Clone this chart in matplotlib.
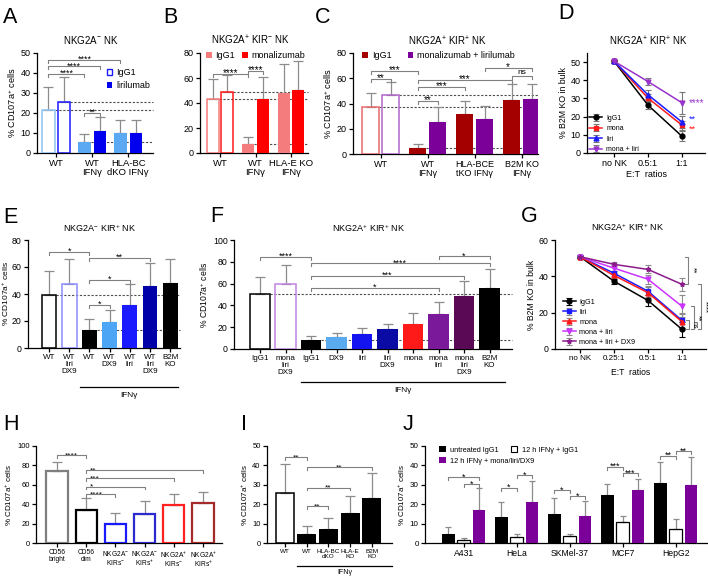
import numpy as np
import matplotlib.pyplot as plt
from matplotlib.patches import Patch

plt.rcParams['font.family'] = ['Liberation Sans', 'DejaVu Sans']
plt.rcParams['mathtext.fontset'] = 'custom'
plt.rcParams['mathtext.rm'] = 'Liberation Sans'
plt.rcParams['mathtext.it'] = 'Liberation Sans:italic'
plt.rcParams['mathtext.bf'] = 'Liberation Sans:bold'

# ---------------- data ----------------
# A  NKG2A- NK
A_groups = ['WT', 'WT\nIFNγ', 'HLA-BC\ndKO IFNγ']
A_igg1 = [21.7, 5.3, 9.8]
A_igg1_sd = [11.4, 4.1, 6.9]
A_liri = [25.5, 10.8, 10.1]
A_liri_sd = [12.6, 7.4, 6.3]

# B  NKG2A+ KIR- NK
B_groups = ['WT', 'WT\nIFNγ', 'HLA-E KO\nIFNγ']
B_igg1 = [43.2, 7.2, 48.0]
B_igg1_sd = [16.0, 5.3, 23.2]
B_mona = [48.5, 43.2, 50.1]
B_mona_sd = [14.2, 17.6, 23.2]

# C  NKG2A+ KIR+ NK
C_groups = ['WT', 'WT\nIFNγ', 'HLA-BCE\ntKO IFNγ', 'B2M KO\nIFNγ']
C_igg1 = [36.9, 4.5, 31.6, 43.0]
C_igg1_sd = [11.4, 3.2, 10.6, 12.4]
C_ml = [47.0, 25.2, 27.9, 43.5]
C_ml_sd = [10.0, 11.7, 9.8, 11.9]

# D  killing curves
D_ratios = ['no NK', '0.5:1', '1:1']
D_igg1 = [50.5, 26.3, 9.2]
D_igg1_sd = [0.8, 2.3, 2.8]
D_mona = [50.5, 30.2, 15.3]
D_mona_sd = [0.8, 2.0, 2.5]
D_liri = [50.5, 32.0, 17.0]
D_liri_sd = [0.8, 2.5, 3.5]
D_ml = [50.5, 39.3, 27.6]
D_ml_sd = [0.8, 2.0, 6.0]

# E  NKG2A- KIR+ NK
E_labels = ['WT', 'WT\nliri\nDX9', 'WT', 'WT\nDX9', 'WT\nliri', 'WT\nliri\nDX9', 'B2M\nKO']
E_vals = [39.4, 47.3, 13.0, 19.0, 31.5, 46.0, 47.8]
E_sd = [18.0, 18.4, 8.4, 9.3, 15.8, 16.8, 17.9]

# F  NKG2A+ KIR+ NK
F_labels = ['IgG1', 'mona\nliri\nDX9', 'IgG1', 'DX9', 'liri', 'liri\nDX9', 'mona',
            'mona\nliri', 'mona\nliri\nDX9', 'B2M\nKO']
F_vals = [50.3, 59.3, 7.8, 10.7, 13.8, 18.0, 22.9, 31.8, 48.6, 56.3]
F_sd = [15.7, 17.7, 3.7, 4.3, 5.2, 5.0, 10.1, 11.2, 13.4, 16.7]

# G  killing curves
G_ratios = ['no NK', '0.25:1', '0.5:1', '1:1']
G_igg1 = [50.8, 37.3, 26.7, 10.8]
G_igg1_sd = [0.8, 1.5, 3.2, 4.0]
G_liri = [50.8, 41.7, 31.8, 15.7]
G_liri_sd = [0.8, 1.5, 3.0, 4.0]
G_mona = [50.8, 40.5, 31.0, 15.0]
G_mona_sd = [0.8, 1.5, 3.0, 4.0]
G_ml = [50.8, 44.5, 38.4, 23.5]
G_ml_sd = [0.8, 1.5, 2.5, 6.0]
G_mld = [50.8, 46.6, 43.8, 35.6]
G_mld_sd = [0.8, 1.5, 2.2, 3.5]

# H  subsets
H_labels = ['CD56\nbright', 'CD56\ndim', 'NKG2A$^{-}$\nKIRs$^{-}$', 'NKG2A$^{-}$\nKIRs$^{+}$',
            'NKG2A$^{+}$\nKIRs$^{-}$', 'NKG2A$^{+}$\nKIRs$^{+}$']
H_vals = [74.7, 33.6, 19.9, 29.8, 39.4, 41.1]
H_sd = [9.2, 12.6, 10.9, 13.0, 11.3, 11.3]

# I
I_labels = ['WT', 'WT', 'HLA-BC\ndKO', 'HLA-E\nKO', 'B2M\nKO']
I_vals = [25.9, 4.5, 7.1, 15.5, 23.4]
I_sd = [14.6, 4.1, 5.8, 8.8, 12.8]

# J  tumour lines
J_lines = ['A431', 'HeLa', 'SKMel-37', 'MCF7', 'HepG2']
J_untr = [4.5, 13.4, 15.0, 24.8, 30.7]
J_untr_sd = [3.8, 7.8, 8.3, 5.7, 11.2]
J_ifn = [1.7, 3.1, 3.4, 11.0, 7.4]
J_ifn_sd = [0.8, 1.4, 1.3, 3.0, 5.0]
J_trt = [16.9, 20.9, 14.1, 27.2, 29.8]
J_trt_sd = [11.7, 11.1, 7.8, 5.6, 14.3]

# ---------------- helpers ----------------
W, H = 708, 576
fig = plt.figure(figsize=(W / 100, H / 100), dpi=100)
ERR = '#8c8c8c'
YLAB = '% CD107a$^{+}$ cells'


def make_ax(box, c0, s, ylim, yticks, fs=6.3):
    # box in figure pixels: left, top, right, bottom
    x0, y0, x1, y1 = box
    ax = fig.add_axes([x0 / W, 1 - y1 / H, (x1 - x0) / W, (y1 - y0) / H])
    ax.set_xlim((x0 - c0) / s, (x1 - c0) / s)
    ax.set_ylim(*ylim)
    ax.set_yticks(yticks)
    for sp in ['top', 'right']:
        ax.spines[sp].set_visible(False)
    for sp in ['left', 'bottom']:
        ax.spines[sp].set_linewidth(0.9)
    ax.tick_params(labelsize=fs, length=3, width=0.9, pad=1.5)
    return ax


def ftext(x, y, s, **kw):
    fig.text(x / W, 1 - y / H, s, **kw)


def draw_bars(ax, xs, vals, sds, fills, edges, width, elw=1.1, cap=3.5):
    for x, v, f, e in zip(xs, vals, fills, edges):
        if f is None:
            ax.bar(x, v, width, facecolor='none', edgecolor=e, linewidth=elw, zorder=3)
        else:
            ax.bar(x, v, width, color=f, linewidth=0, zorder=3)
    ax.errorbar(xs, vals, yerr=[np.zeros(len(vals)), sds], fmt='none', ecolor=ERR,
                elinewidth=0.9, capsize=cap, capthick=0.9, zorder=2)


def dash(ax, x_from, y):
    ax.plot([x_from, ax.get_xlim()[1]], [y, y], color='#4d4d4d', lw=0.8,
            ls=(0, (2, 1.5)), zorder=1, clip_on=False)


def bracket(ax, x1, x2, y, txt, drop, fs=7, tx=None, ha='center'):
    ax.plot([x1, x1, x2, x2], [y - drop, y, y, y - drop], color='#808080', lw=0.8,
            clip_on=False, zorder=4)
    if tx is None:
        tx = (x1 + x2) / 2
    if txt == 'ns':
        ax.annotate(txt, (tx, y), xytext=(0, 0.5), textcoords='offset points',
                    ha=ha, va='bottom', fontsize=fs - 1)
    else:
        ax.annotate(txt, (tx, y), xytext=(0, -1.6), textcoords='offset points',
                    ha=ha, va='baseline', fontsize=fs)


def vbracket(ax, x, y1, y2, txt, tick=0.09, fs=6):
    ax.plot([x - tick, x, x, x - tick], [y1, y1, y2, y2], color='#808080', lw=0.8,
            clip_on=False)
    ax.text(x + 0.03, (y1 + y2) / 2, txt, rotation=270, ha='left', va='center',
            fontsize=fs, clip_on=False)


def under(ax, x0, x1, y_line, y_text, fs=6, s='IFNγ'):
    pos = ax.get_position()
    hpx = pos.height * H
    bottom = (1 - pos.y0) * H
    tr = ax.get_xaxis_transform()
    fl = (bottom - y_line) / hpx
    ft = (bottom - y_text) / hpx
    ax.plot([x0, x1], [fl, fl], color='black', lw=0.9, transform=tr, clip_on=False)
    ax.text((x0 + x1) / 2, ft, s, transform=tr, ha='center', va='center', fontsize=fs)


def letter(x, y, s):
    ftext(x, y, s, fontsize=15.5, ha='left', va='baseline')


# ---------------- A ----------------
ax = make_ax((37, 53, 153, 153), 56.2, 36, (0, 50), range(0, 51, 10), fs=6.5)
xg = np.arange(3)
off, w = 0.215, 0.35
draw_bars(ax, xg - off, A_igg1, A_igg1_sd, [None, '#5aa9f2', '#5aa9f2'], ['#8cc4f5'] * 3, w)
draw_bars(ax, xg + off, A_liri, A_liri_sd, [None, '#0000ee', '#0000ee'], ['#1a1aff'] * 3, w)
dash(ax, off + w / 2, A_liri[0])
dash(ax, -off + w / 2, A_igg1[0])
dash(ax, 1 - off + w / 2, A_igg1[1])
bracket(ax, -off, 2 - off, 46.7, '****', 1.5, fs=6.5)
bracket(ax, -off, 1 + off, 43.4, '****', 1.5, fs=6.5)
bracket(ax, -off, 1 - off, 39.7, '****', 1.5, fs=6.5)
bracket(ax, 1 - off, 1 + off, 20.2, '**', 1.5, fs=6.5)
ax.set_xticks(xg)
ax.set_xticklabels(A_groups, fontsize=6.8, linespacing=0.95)
ax.set_ylabel(YLAB, fontsize=6.6, labelpad=2)
ax.legend(handles=[Patch(facecolor='white', edgecolor='#1a1aff', lw=1),
                   Patch(facecolor='#0000ee')], labels=['IgG1', 'lirilumab'],
          loc='upper left', bbox_to_anchor=(0.6, 0.85), frameon=False, fontsize=6.5,
          handlelength=0.65, handleheight=0.65, handletextpad=0.4, labelspacing=0.45,
          borderpad=0, borderaxespad=0)
ftext(91, 40, 'NKG2A$^{-}$ NK', fontsize=7, ha='center', va='center')
letter(3, 23, 'A')

# ---------------- B ----------------
ax = make_ax((200, 53, 308, 153), 220, 35.5, (0, 80), range(0, 81, 20), fs=6.5)
off, w = 0.21, 0.34
draw_bars(ax, xg - off, B_igg1, B_igg1_sd, [None, '#f47c7c', '#f47c7c'], ['#f47c7c'] * 3, w)
draw_bars(ax, xg + off, B_mona, B_mona_sd, [None, '#ff0000', '#ff0000'], ['#ff1a1a'] * 3, w)
dash(ax, off + w / 2, B_mona[0])
dash(ax, -off + w / 2, B_igg1[0])
dash(ax, 1 - off + w / 2, B_igg1[1])
bracket(ax, -off, 1 - off, 63.2, '****', 2.4)
bracket(ax, 1 - off, 1 + off, 65.9, '****', 2.4)
ax.set_xticks(xg)
ax.set_xticklabels(B_groups, fontsize=6.8, linespacing=0.95)
ax.legend(handles=[Patch(facecolor='#f47c7c'), Patch(facecolor='#ff0000')],
          labels=['IgG1', 'monalizumab'], ncol=2, loc='upper left',
          bbox_to_anchor=(0.06, 1.02), frameon=False, fontsize=6.5,
          handlelength=0.65, handleheight=0.65, handletextpad=0.35, columnspacing=0.8,
          borderpad=0, borderaxespad=0)
ftext(250, 40, 'NKG2A$^{+}$ KIR$^{-}$ NK', fontsize=7, ha='center', va='center')
letter(163, 23, 'B')

# ---------------- C ----------------
ax = make_ax((353, 53, 538, 154), 380.7, 47, (0, 80), range(0, 81, 20), fs=6.5)
xc = np.arange(4)
off, w = 0.21, 0.355
draw_bars(ax, xc - off, C_igg1, C_igg1_sd, [None, '#a50000', '#a50000', '#a50000'],
          ['#e86a6a'] * 4, w)
draw_bars(ax, xc + off, C_ml, C_ml_sd, [None, '#7b0099', '#7b0099', '#7b0099'],
          ['#b266cc'] * 4, w)
dash(ax, off + w / 2, C_ml[0])
dash(ax, -off + w / 2, C_igg1[0])
dash(ax, 1 - off + w / 2, C_igg1[1])
bracket(ax, -off, off, 59.4, '**', 2.4)
bracket(ax, -off, 1 - off, 65.5, '***', 2.4)
bracket(ax, 1 - off, 1 + off, 42.2, '**', 2.4)
bracket(ax, 1 - off, 2 - off, 53.0, '***', 2.4)
bracket(ax, 1 - off, 3 - off, 58.9, '***', 2.4)
bracket(ax, 2 + off, 3 + off, 68.0, '*', 2.4)
bracket(ax, 3 - off, 3 + off, 61.5, 'ns', 2.4)
ax.set_xticks(xc)
ax.set_xticklabels(C_groups, fontsize=6.5, linespacing=0.95)
ax.set_ylabel(YLAB, fontsize=6.6, labelpad=2)
ax.legend(handles=[Patch(facecolor='#a50000'), Patch(facecolor='#7b0099')],
          labels=['IgG1', 'monalizumab + lirilumab'], ncol=2, loc='upper left',
          bbox_to_anchor=(0.05, 1.02), frameon=False, fontsize=6.5,
          handlelength=0.65, handleheight=0.65, handletextpad=0.4, columnspacing=1.8,
          borderpad=0, borderaxespad=0)
ftext(447, 41, 'NKG2A$^{+}$ KIR$^{+}$ NK', fontsize=7, ha='center', va='center')
letter(315, 23, 'C')

# ---------------- D ----------------
ax = make_ax((587, 53, 705, 153), 614, 34, (0, 55), range(0, 51, 10), fs=6.5)
xd = np.arange(3)
d_series = [(D_igg1, D_igg1_sd, 'black', 'o', 'IgG1'),
            (D_mona, D_mona_sd, '#ff1a1a', 's', 'mona'),
            (D_liri, D_liri_sd, '#1a1aff', '^', 'liri'),
            (D_ml, D_ml_sd, '#9933cc', 'v', 'mona + liri')]
for vals, sd, c, m, lab in d_series:
    ax.errorbar(xd, vals, yerr=sd, color=c, marker=m, ms=3.5, lw=1.1, elinewidth=0.8,
                ecolor='#777777', capsize=2, capthick=0.8, label=lab, clip_on=False)
ax.text(2.2, D_ml[2], '****', color='#9933cc', fontsize=7, va='center', ha='left')
ax.text(2.2, D_liri[2] + 1.3, '**', color='#1a1aff', fontsize=6.5, va='center', ha='left')
ax.text(2.2, D_mona[2] - 2.0, '**', color='#ff1a1a', fontsize=6.5, va='center', ha='left')
ax.set_xticks(xd)
ax.set_xticklabels(D_ratios, fontsize=6.5)
ax.set_xlabel('E:T  ratios', fontsize=6.5, labelpad=1)
ax.set_ylabel('% B2M KO in bulk', fontsize=6.3, labelpad=2)
ax.legend(loc='lower left', bbox_to_anchor=(0.02, 0.0), frameon=False, fontsize=5,
          handlelength=1.8, handletextpad=0.6, labelspacing=0.5, borderpad=0,
          borderaxespad=0)
ftext(648, 41, 'NKG2A$^{+}$ KIR$^{+}$ NK', fontsize=7, ha='center', va='center')
letter(558, 19, 'D')

# ---------------- E ----------------
ax = make_ax((28, 240, 180, 348), 49, 20.2, (0, 80), range(0, 81, 20))
xe = np.arange(len(E_vals))
w = 0.74
draw_bars(ax, xe, E_vals, E_sd, [None, None, 'black', '#4da6f5', '#1a1aff', '#0000a8', 'black'],
          ['black', '#8c8cff', None, None, None, None, None], w)
dash(ax, w / 2, E_vals[0])
dash(ax, 2 + w / 2, E_vals[2])
bracket(ax, 0, 2, 71.4, '*', 2.2, fs=6.5)
bracket(ax, 2, 5, 67.0, '**', 2.2, fs=6.5)
bracket(ax, 2, 4, 50.5, '*', 2.2, fs=6.5)
bracket(ax, 2, 3, 32.0, '*', 2.2, fs=6.5)
ax.set_xticks(xe)
ax.set_xticklabels(E_labels, fontsize=5.8, linespacing=0.95)
ax.set_ylabel(YLAB, fontsize=6.0, labelpad=0.5)
under(ax, 1.53, 6.39, 387, 396)
ftext(99, 228, 'NKG2A$^{-}$ KIR$^{+}$ NK', fontsize=6.5, ha='center', va='center')
letter(3, 223, 'E')

# ---------------- F ----------------
ax = make_ax((234, 240, 512, 349), 260, 25.5, (0, 100), range(0, 101, 20))
xf = np.arange(len(F_vals))
w = 0.81
draw_bars(ax, xf, F_vals, F_sd,
          [None, None, 'black', '#5aaaf0', '#1414f0', '#0a0aa5', '#ff1a1a', '#7a1a9a',
           '#5a0a55', 'black'],
          ['black', '#c084e0'] + [None] * 8, w)
dash(ax, w / 2, F_vals[0])
dash(ax, 2 + w / 2, F_vals[2])
bracket(ax, 0, 2, 84.7, '****', 2.75, fs=6.5)
bracket(ax, 2, 9, 78.6, '****', 2.75, fs=6.5)
bracket(ax, 7, 9, 85.3, '*', 2.75, fs=6.5)
bracket(ax, 2, 8, 67.3, '***', 2.75, fs=6.5)
bracket(ax, 2, 7, 56.3, '*', 2.75, fs=6.5)
ax.set_xticks(xf)
ax.set_xticklabels(F_labels, fontsize=5.8, linespacing=0.95)
ax.set_ylabel(YLAB, fontsize=6.2, labelpad=2)
under(ax, 1.61, 9.6, 382, 390)
ftext(368, 228, 'NKG2A$^{+}$ KIR$^{+}$ NK', fontsize=6.5, ha='center', va='center')
letter(210, 222, 'F')

# ---------------- G ----------------
ax = make_ax((555, 240, 706, 349), 580, 34, (0, 60), range(0, 61, 20))
xgg = np.arange(4)
g_series = [(G_igg1, G_igg1_sd, 'black', 'o', 'IgG1'),
            (G_liri, G_liri_sd, '#1a1aff', 's', 'liri'),
            (G_mona, G_mona_sd, '#ff1a1a', '^', 'mona'),
            (G_ml, G_ml_sd, '#cc33ff', 'v', 'mona + liri'),
            (G_mld, G_mld_sd, '#8b1a8b', '*', 'mona + liri + DX9')]
for vals, sd, c, m, lab in g_series:
    ax.errorbar(xgg, vals, yerr=sd, color=c, marker=m, ms=3.5, lw=1.1, elinewidth=0.8,
                ecolor='#8c8c8c' if c != 'black' else 'black',
                capsize=2, capthick=0.8, label=lab, clip_on=False)
vbracket(ax, 3.18, G_mld[0], G_mld[3], '**')
vbracket(ax, 3.55, G_mld[3], G_igg1[3], '****', fs=5.5)
vbracket(ax, 3.35, G_ml[3], G_igg1[3], '**')
vbracket(ax, 3.21, G_liri[3], G_igg1[3], 'ns', fs=5)
ax.set_xticks(xgg)
ax.set_xticklabels(G_ratios, fontsize=5.8)
ax.set_xlabel('E:T  ratios', fontsize=6.2, labelpad=4)
ax.set_ylabel('% B2M KO in bulk', fontsize=6.2, labelpad=2)
ax.legend(loc='lower left', bbox_to_anchor=(0.05, 0.03), frameon=False, fontsize=5.2,
          handlelength=1.8, handletextpad=0.5, labelspacing=0.4, borderpad=0,
          borderaxespad=0)
ftext(627, 227, 'NKG2A$^{+}$ KIR$^{+}$ NK', fontsize=6.5, ha='center', va='center')
letter(521, 222, 'G')

# ---------------- H ----------------
ax = make_ax((36, 446, 222, 543), 57, 29.2, (0, 100), range(0, 101, 20), fs=5.5)
xh = np.arange(len(H_vals))
w = 0.72
draw_bars(ax, xh, H_vals, H_sd, [None] * 6,
          ['#7f7f7f', 'black', '#1a1aff', '#2a2ad0', '#ff2020', '#a52a2a'], w, elw=1.6)
bracket(ax, 0, 1, 90.8, '****', 3, fs=6)
bracket(ax, 1, 5, 75.3, '**', 3, fs=6, tx=1.13, ha='left')
bracket(ax, 1, 4, 66.8, '***', 3, fs=6, tx=1.13, ha='left')
bracket(ax, 1, 3, 58.2, '*', 3, fs=6, tx=1.13, ha='left')
bracket(ax, 1, 2, 50.7, '****', 3, fs=6, tx=1.13, ha='left')
ax.set_xticks(xh)
ax.set_xticklabels(H_labels, fontsize=4.8, linespacing=0.95)
ax.set_ylabel(YLAB, fontsize=5.8, labelpad=2)
letter(3, 430, 'H')

# ---------------- I ----------------
ax = make_ax((267, 446, 392, 543), 285, 21.7, (0, 50), range(0, 51, 10), fs=5.5)
xi = np.arange(len(I_vals))
w = 0.87
draw_bars(ax, xi, I_vals, I_sd, [None, 'black', 'black', 'black', 'black'],
          ['black'] + [None] * 4, w)
bracket(ax, 0, 1, 44.5, '**', 1.5, fs=6)
bracket(ax, 1, 4, 39.0, '**', 1.5, fs=6)
bracket(ax, 1, 3, 28.6, '**', 1.5, fs=6)
bracket(ax, 1, 2, 19.0, '**', 1.5, fs=6)
ax.set_xticks(xi)
ax.set_xticklabels(I_labels, fontsize=4.6, linespacing=0.95)
ax.set_ylabel(YLAB, fontsize=5.8, labelpad=2)
under(ax, 0.55, 4.93, 566, 573, fs=5)
letter(241, 430, 'I')

# ---------------- J ----------------
ax = make_ax((425, 446, 707, 543), 463.7, 53, (0, 50), range(0, 51, 10), fs=5.8)
xj = np.arange(len(J_lines))
off, w = 0.29, 0.235
draw_bars(ax, xj - off, J_untr, J_untr_sd, ['black'] * 5, [None] * 5, w, cap=2.5)
draw_bars(ax, xj, J_ifn, J_ifn_sd, [None] * 5, ['black'] * 5, w, elw=0.9, cap=2.5)
draw_bars(ax, xj + off, J_trt, J_trt_sd, ['#7b0099'] * 5, [None] * 5, w, cap=2.5)
j_br = [(0, -off, off, 33.8, '*'), (0, 0, off, 30.3, '*'),
        (1, -off, 0, 28.4, '*'), (1, 0, off, 35.0, '*'),
        (2, -off, 0, 27.2, '*'), (2, 0, off, 24.1, '*'),
        (3, -off, 0, 39.3, '***'), (3, 0, off, 35.9, '***'),
        (4, -off, 0, 45.0, '**'), (4, 0, off, 47.4, '**')]
for g, a, b, y, t in j_br:
    bracket(ax, g + a, g + b, y, t, 1.5, fs=6.5)
ax.set_xticks(xj)
ax.set_xticklabels(J_lines, fontsize=6.2)
ax.set_ylabel(YLAB, fontsize=5.8, labelpad=2)
leg1 = ax.legend(handles=[Patch(facecolor='black'), Patch(facecolor='white', edgecolor='black', lw=0.8)],
                 labels=['untreated IgG1', '12 h IFNγ + IgG1'], ncol=2, loc='upper left',
                 bbox_to_anchor=(0.05, 1.0), frameon=False, fontsize=5.3,
                 handlelength=0.9, handleheight=0.9, handletextpad=0.6, columnspacing=1.6,
                 borderpad=0, borderaxespad=0)
ax.add_artist(leg1)
ax.legend(handles=[Patch(facecolor='#7b0099')], labels=['12 h IFNγ + mona/liri/DX9'],
          loc='upper left', bbox_to_anchor=(0.05, 0.885), frameon=False, fontsize=5.3,
          handlelength=0.9, handleheight=0.9, handletextpad=0.6, borderpad=0,
          borderaxespad=0)
letter(403, 430, 'J')

fig.savefig('out.png', dpi=100, facecolor='white')
